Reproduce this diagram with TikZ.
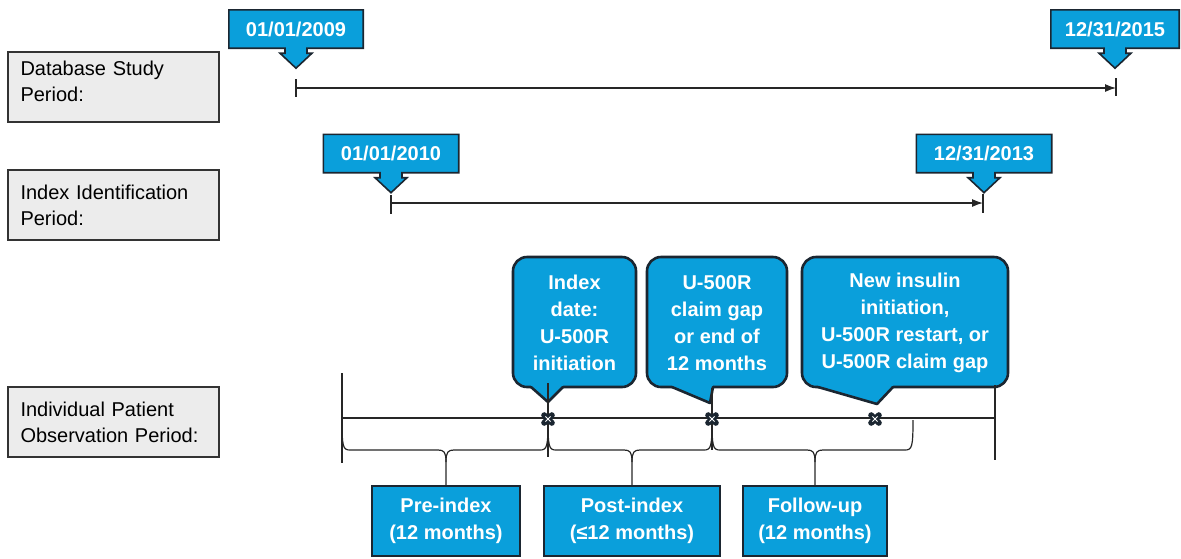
\documentclass[tikz,border=0pt]{standalone}
\usepackage{fontspec}
\setmainfont{Liberation Sans}
\usetikzlibrary{calc,arrows.meta,backgrounds}
\definecolor{cblue}{HTML}{0A9FDB}
\definecolor{cdark}{HTML}{1B2631}
\definecolor{lgray}{HTML}{ECECEC}
\newcommand{\datecall}[1]{%
  \begin{scope}[on background layer]
  \draw[cfill] (#1.north west) -- (#1.north east) -- (#1.south east)
    -- ($(#1.south)+(11,0)$) -- ($(#1.south)+(11,5)$) -- ($(#1.south)+(16,5)$)
    -- ($(#1.south)+(0,20)$) -- ($(#1.south)+(-16,5)$) -- ($(#1.south)+(-11,5)$)
    -- ($(#1.south)+(-11,0)$) -- (#1.south west) -- cycle;
  \end{scope}}
% bubble: left x, right x, pointer left base, tip x, tip y, pointer right base
\newcommand{\bubble}[6]{%
  \begin{scope}[on background layer]
  \draw[bub,rounded corners=14pt] (#1,257) rectangle (#2,387);
  \fill[cblue] (#3,383) -- (#3,387) -- (#4,#5) -- (#6,387) -- (#6,383) -- cycle;
  \draw[cdark,line width=2.6pt,line join=round,line cap=round] (#3,387) -- (#4,#5) -- (#6,387);
  \end{scope}}
\newcommand{\brc}[4]{%
  \draw[tl] (#1,420) .. controls (#1,447) and (#1+1,450) .. (#1+8,450) -- (#2-8,450)
    .. controls (#2-2,450) and (#2,452) .. (#2,462) -- (#4.north);
  \draw[tl] (#3,420) .. controls (#3,447) and (#3-1,450) .. (#3-8,450) -- (#2+8,450)
    .. controls (#2+2,450) and (#2,452) .. (#2,462);}
\newcommand{\mk}[1]{%
  \draw[cdark,line width=6pt,line cap=round] ($(#1)+(-3.8,-3.8)$) -- ($(#1)+(3.8,3.8)$) ($(#1)+(-3.8,3.8)$) -- ($(#1)+(3.8,-3.8)$);
  \draw[white,line width=0.9pt] ($(#1)+(-2.6,-2.6)$) -- ($(#1)+(2.6,2.6)$) ($(#1)+(-2.6,2.6)$) -- ($(#1)+(2.6,-2.6)$);}
\begin{document}
\begin{tikzpicture}[x=1pt,y=-1pt,
  lbl/.style={draw=black!80,line width=1.3pt,fill=lgray,minimum width=211pt,minimum height=70pt,text width=186pt,align=left,inner sep=0pt,font=\fontsize{20}{26}\selectfont},
  dt/.style={minimum width=134pt,minimum height=38pt,inner sep=0pt,text=white,font=\bfseries\fontsize{20}{24}\selectfont},
  cfill/.style={fill=cblue,draw=cdark,line width=1.6pt,line join=miter},
  bub/.style={fill=cblue,draw=cdark,line width=2.6pt,line join=round},
  ctext/.style={text=white,align=center,font=\bfseries\fontsize{20}{27}\selectfont,inner sep=0pt},
  pbox/.style={fill=cblue,draw=cdark,line width=1.2pt,minimum height=70pt,inner sep=0pt,text=white,align=center,font=\bfseries\fontsize{20}{27}\selectfont},
  tl/.style={draw=black!85,line width=1.2pt}]
\useasboundingbox (0,0) rectangle (1181,558);
% row labels
\node[lbl,text depth=38pt] (L1) at (113.5,87) {Database Study\\Period:};
\node[lbl] (L2) at (113.5,205) {Index Identification\\Period:};
\node[lbl] (L3) at (113.5,422) {Individual Patient\\Observation Period:};
% date callouts
\node[dt] (D1) at (296,29) {01/01/2009};
\node[dt,minimum width=128pt] (D2) at (1115,29) {12/31/2015};
\node[dt,minimum width=135pt] (D3) at (391,153.5) {01/01/2010};
\node[dt,minimum width=135pt] (D4) at (984,153.5) {12/31/2013};
\datecall{D1}\datecall{D2}\datecall{D3}\datecall{D4}
% timeline 1
\coordinate (s1) at (296,88); \coordinate (e1) at (1116,88);
\draw[tl,-{Latex[length=11pt,width=8pt]}] (s1) -- (e1);
\draw[tl] ($(s1)+(0,-9)$) -- ($(s1)+(0,9)$);
\draw[tl] ($(e1)+(0,-10)$) -- ($(e1)+(0,8)$);
% timeline 2
\coordinate (s2) at (391,203); \coordinate (e2) at (983,203);
\draw[tl,-{Latex[length=11pt,width=8pt]}] (s2) -- (e2);
\draw[tl] ($(s2)+(0,-8)$) -- ($(s2)+(0,11)$);
\draw[tl] ($(e2)+(0,-9)$) -- ($(e2)+(0,10)$);
% bubbles
\node[ctext] (B1) at (574.5,323) {Index\\date:\\U-500R\\initiation};
\node[ctext] (B2) at (717,323) {U-500R\\claim gap\\or end of\\12 months};
\node[ctext] (B3) at (905,323) {New insulin\\initiation,\\U-500R restart, or\\U-500R claim gap};
\bubble{513}{636}{531}{548}{402}{563}
\bubble{647}{787}{672}{710}{403}{713}
\bubble{802}{1008}{818}{877}{404}{893}
% patient timeline
\coordinate (a) at (342,418); \coordinate (z) at (995,418);
\coordinate (M1) at (548,419); \coordinate (M2) at (712,419); \coordinate (M3) at (875,419);
\draw[tl] (a) -- (z);
\draw[tl] (342,373) -- (342,463);
\draw[tl] (995,385) -- (995,460);
\draw[tl] (548,383) -- (548,457);
\draw[tl] (712,388) -- (712,450);
% boxes
\node[pbox,minimum width=148pt] (P1) at (446,521) {Pre-index\\(12 months)};
\node[pbox,minimum width=176pt] (P2) at (632,521) {Post-index\\(≤12 months)};
\node[pbox,minimum width=144pt] (P3) at (815,521) {Follow-up\\(12 months)};
\brc{342}{446}{548}{P1}
\brc{548}{632}{712}{P2}
\brc{712}{815}{913}{P3}
\mk{M1}\mk{M2}\mk{M3}
\end{tikzpicture}
\end{document}
